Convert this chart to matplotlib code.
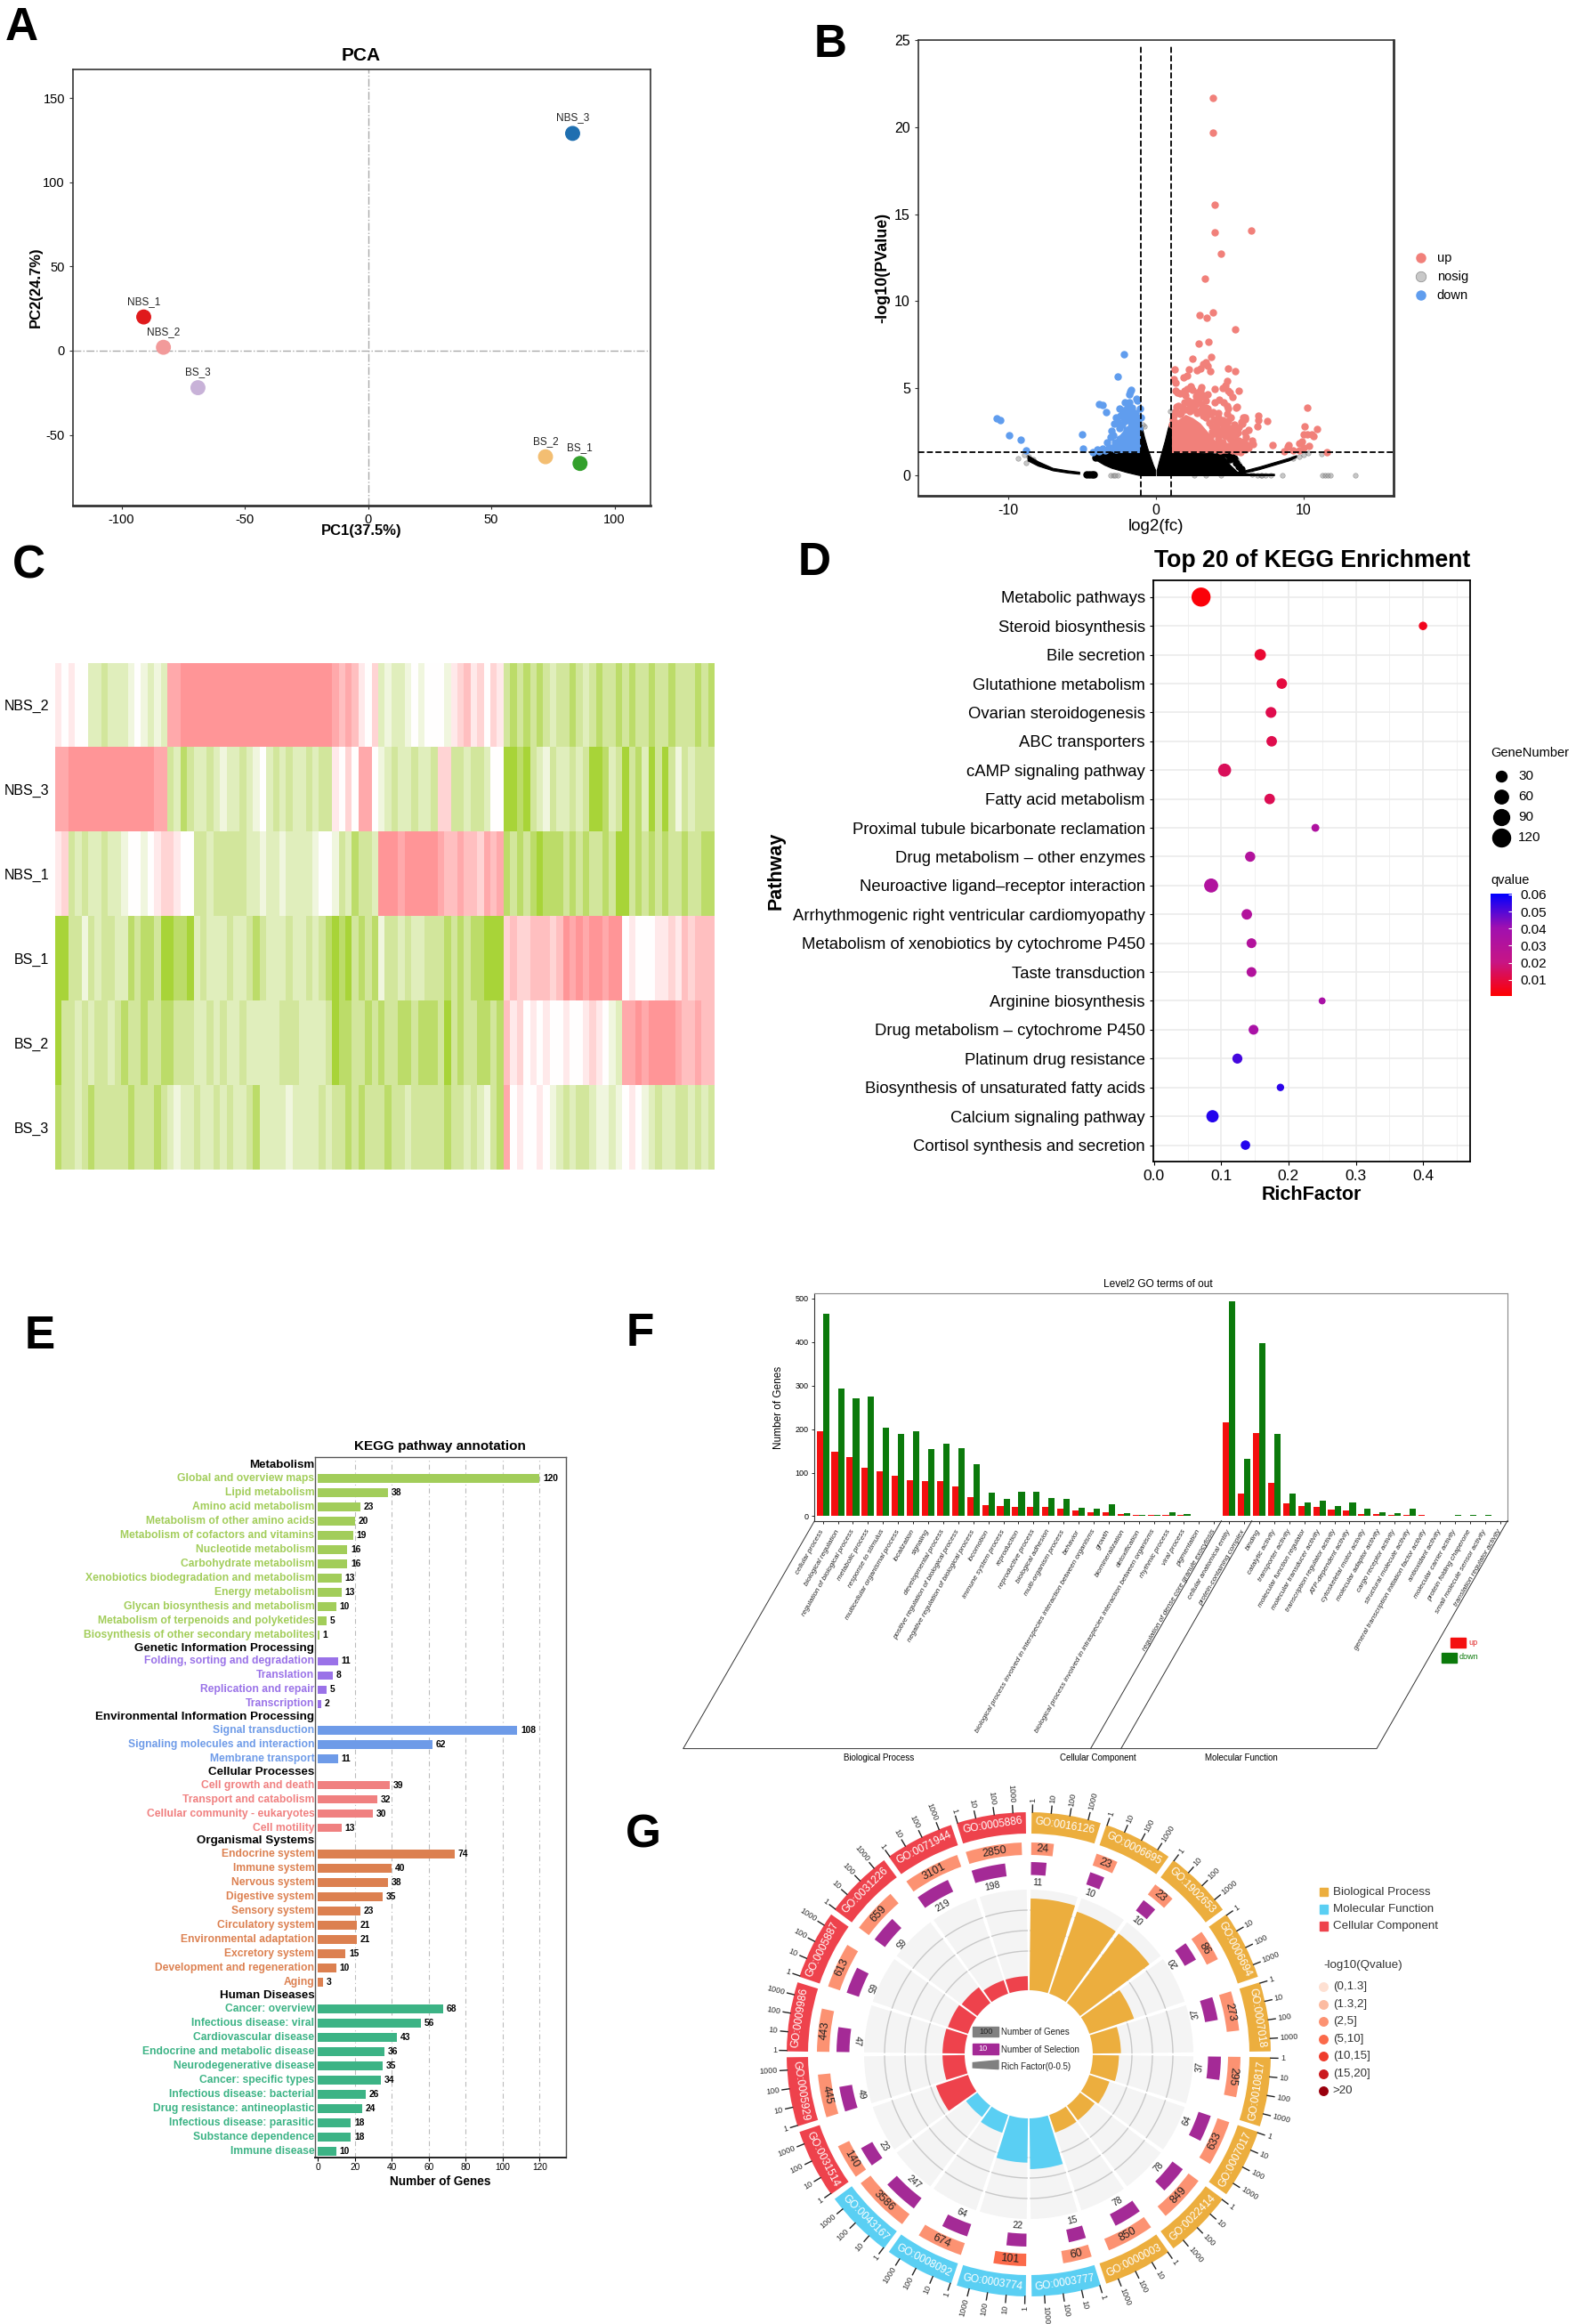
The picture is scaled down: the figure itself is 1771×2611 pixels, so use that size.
import numpy as np
import matplotlib
matplotlib.use('Agg')
import matplotlib.pyplot as plt
from matplotlib.colors import LinearSegmentedColormap, Normalize
from matplotlib.cm import ScalarMappable
from matplotlib.patches import Rectangle, Polygon

plt.rcParams['font.family'] = ['Liberation Sans', 'DejaVu Sans']
plt.rcParams['axes.unicode_minus'] = False

W, H = 1771, 2611

# ---- A: PCA
pca_names = ['NBS_3', 'BS_1', 'BS_2', 'NBS_1', 'NBS_2', 'BS_3']
pca_x = [83, 86, 72, -91, -83, -69]
pca_y = [129, -67, -63, 20, 2, -22]
pca_colors = ['#1f6fb0', '#33a02c', '#f3be72', '#e01a1c', '#f29a9a', '#c8b2d8']

# ---- B: volcano, single points
up_x = [3.84, 3.87, 3.97, 3.97, 6.44, 4.42, 3.32, 3.84, 2.95, 3.46, 5.38, 3.56, 2.88, 3.73, 2.5, 3.36, 3.18, 3.5, 3.0, 2.77,
        2.23, 1.27, 3.7, 4.9, 5.38, 1.2, 1.3, 1.88, 2.09, 4.8, 4.73, 2.33, 1.3, 1.45, 1.6, 1.9, 2.0, 2.1, 2.35, 2.5,
        2.7, 2.85, 3.0, 3.05, 2.8, 2.95, 3.2, 3.4, 3.5, 3.95, 4.5, 4.9, 5.0, 5.6, 5.2, 4.3, 4.0, 4.6, 4.8, 4.9,
        5.5, 5.45, 3.1, 3.4, 2.5, 2.2, 1.8, 1.4, 1.5, 1.3, 2.0, 2.6, 3.0, 3.5, 4.2, 4.85, 4.9, 4.7, 5.9, 5.8,
        6.05, 5.6, 5.3, 5.0, 4.4, 4.2, 3.9, 6.0, 6.1, 5.4, 5.8, 5.95, 6.15, 5.7, 5.5, 6.0, 4.7, 5.1, 4.5, 4.9,
        4.3, 4.1, 3.8, 4.6, 5.2, 5.35, 4.75, 4.45, 10.27, 10.1, 10.9, 10.27, 10.03, 10.7, 10.55, 9.86, 9.69, 9.0, 8.94, 7.9,
        10.4, 10.03, 9.69, 9.28, 8.66, 11.58, 6.95, 6.95, 7.53, 6.88, 6.03, 5.86,
        1.2, 1.7, 2.3, 2.8, 3.2, 3.6, 3.8, 4.0, 3.7, 4.2, 4.4, 4.6, 4.8, 5.0, 5.2, 5.4, 5.6, 4.3, 4.6, 5.2,
        3.4, 3.7, 4.1, 4.5, 2.4, 1.6, 1.15, 1.1, 1.9, 2.3, 2.7, 3.3, 4.05, 4.35, 5.75, 6.3, 6.5, 6.3, 6.6, 5.25,
        5.55, 4.75, 4.55, 5.05, 4.25, 3.85]
up_y = [21.66, 19.68, 15.56, 13.98, 14.06, 12.75, 11.3, 9.33, 9.19, 9.07, 8.36, 7.68, 7.56, 6.81, 6.7, 6.5, 6.4, 6.3, 6.14, 6.04,
        6.08, 6.1, 5.96, 6.14, 5.96, 5.5, 5.3, 5.6, 5.7, 5.43, 5.15, 5.09, 4.85, 4.75, 4.7, 4.85, 4.6, 4.95, 5.05, 4.9,
        4.55, 4.75, 4.9, 5.05, 4.35, 4.45, 4.6, 4.3, 4.65, 4.95, 5.0, 4.85, 4.75, 4.85, 4.5, 4.35, 4.2, 4.2, 4.0, 3.85,
        3.95, 3.9, 4.1, 3.9, 4.2, 4.3, 3.9, 3.95, 4.0, 3.7, 3.8, 3.8, 3.75, 3.85, 3.3, 3.5, 3.1, 3.0, 3.3, 3.05,
        3.2, 2.75, 2.9, 2.7, 3.0, 2.6, 3.2, 2.45, 2.2, 2.35, 1.85, 1.95, 1.75, 1.6, 1.4, 1.5, 2.25, 2.3, 1.9, 1.7,
        2.3, 2.8, 2.5, 2.7, 1.6, 2.0, 1.5, 1.7, 3.88, 2.83, 2.67, 2.36, 2.36, 2.26, 2.36, 1.96, 1.86, 1.76, 1.62, 1.76,
        1.66, 1.56, 1.45, 1.45, 1.39, 1.33, 3.43, 3.17, 3.13, 2.79, 3.33, 2.97,
        3.4, 3.6, 3.7, 3.55, 3.4, 3.0, 2.8, 2.4, 2.2, 2.1, 2.4, 2.6, 2.4, 2.1, 1.9, 1.7, 2.0, 1.6, 1.5, 1.45,
        3.3, 3.5, 3.0, 3.15, 3.9, 3.5, 3.2, 2.9, 4.2, 4.05, 4.1, 3.6, 1.8, 1.45, 1.35, 1.6, 2.0, 2.6, 1.8, 2.55,
        2.45, 2.85, 2.95, 3.3, 3.6, 3.65]
down_x = [-10.79, -10.58, -9.97, -9.14, -8.8, -5.0, -4.97, -2.16, -2.57, -3.84, -3.6, -3.39, -1.68, -1.75, -1.82, -1.34, -2.1, -1.8, -1.25,
          -1.1, -2.45, -2.2, -1.9, -1.6, -2.7, -2.4, -3.0, -2.85, -3.1, -3.3, -3.6, -3.85, -2.6, -2.2, -1.5, -1.3, -1.05, -1.75,
          -3.0, -2.8, -2.7, -2.5, -2.3, -2.5, -2.9, -3.2, -3.45, -2.1, -1.9, -1.7, -2.0, -1.4, -1.6, -1.9, -2.3, -1.2, -1.15, -4.3, -3.95]
down_y = [3.27, 3.17, 2.3, 2.04, 1.41, 2.36, 1.54, 6.95, 5.66, 4.08, 4.06, 3.64, 4.93, 4.79, 4.65, 4.38, 4.2, 4.2, 4.3,
          3.85, 3.85, 3.75, 3.65, 3.7, 3.3, 3.4, 2.55, 2.95, 2.2, 1.9, 1.55, 1.4, 3.05, 3.25, 3.5, 3.3, 3.3, 3.2,
          1.6, 1.9, 1.5, 2.7, 2.9, 2.1, 2.3, 1.6, 1.45, 3.1, 3.4, 3.0, 2.6, 3.6, 3.9, 3.9, 3.5, 3.0, 2.7, 1.35, 1.5]
nosig_x = [-9.35, -8.9, -8.6, -8.8, -8.3, -4.4, -4.2, -4.7, -4.35, -3.1, -2.9, -2.6, -2.8, -3.6, -3.9, -3.0, -0.8, -2.4, 5.1, 4.9, 5.5, 4.2, 4.7, 5.6,
           6.5, 7.4, 7.75, 8.55, 11.3, 11.45, 11.65, 11.8, 13.5, 2.6, 3.4, 4.4, 6.9, 7.1, 7.2, 9.3, 9.7, 10.0, 10.3, 11.2, 0.95, -0.9]
nosig_y = [0.95, 1.15, 1.05, 0.7, 0.9, 0.05, 0.05, 0.05, 0.03, 0.0, 0.0, 0.0, 0.0, 1.0, 1.05, 0.8, 2.8, 0.9, 1.0, 0.9, 0.85, 1.05, 0.8, 0.65,
           0.05, 0.0, 0.0, 0.0, 0.0, 0.0, 0.0, 0.0, 0.0, 0.0, 0.0, 0.0, 0.0, 0.0, 0.0, 0.98, 1.08, 1.15, 1.25, 1.2, 3.7, 2.9]
# dense parts of the volcano, as envelopes
black_left_x = [-4.0, -3.5, -3.0, -2.5, -2.0, -1.5, -1.2, -1.0, -0.8, -0.6, -0.4, -0.2, -0.05]
black_left_hi = [1.2, 1.3, 1.3, 1.3, 1.3, 1.3, 1.3, 2.9, 2.2, 1.6, 1.1, 0.6, 0.3]
black_left_lo = [0.85, 0.6, 0.42, 0.3, 0.18, 0.08, 0.02, 0.0, 0.0, 0.0, 0.0, 0.0, 0.0]
black_right_x = [0.05, 0.2, 0.4, 0.6, 0.8, 1.0, 1.2, 1.5, 2.0, 3.0, 4.0, 4.6, 5.0, 5.5, 6.0, 7.0, 8.0]
black_right_hi = [0.3, 0.8, 1.4, 2.0, 2.7, 3.2, 1.3, 1.3, 1.3, 1.3, 1.25, 1.1, 0.6, 0.2, 0.1, 0.08, 0.08]
arm_left_x = [-8.7, -8.0, -7.0, -6.0, -5.2]
arm_left_hi = [1.15, 0.8, 0.42, 0.28, 0.2]
arm_left_lo = [0.85, 0.55, 0.28, 0.15, 0.08]
arm_right_x = [5.0, 6.0, 7.0, 8.0, 9.0, 9.5]
arm_right_hi = [0.12, 0.28, 0.5, 0.75, 1.0, 1.15]
arm_right_lo = [0.05, 0.15, 0.35, 0.6, 0.85, 1.05]
red_mass_x = [1.05, 1.5, 2.0, 2.5, 3.0, 3.5, 4.0, 4.5, 5.0]
red_mass_hi = [3.3, 3.2, 3.5, 3.3, 3.0, 2.5, 2.0, 1.9, 1.7]
blue_mass_x = [-2.9, -2.5, -2.0, -1.6, -1.3, -1.05]
blue_mass_hi = [1.7, 2.3, 2.8, 3.2, 3.3, 2.6]
black_dots_x = [-4.7, -4.5, -4.35, -4.2, -3.9, -3.7, -3.4, -3.2, -4.1, -3.0, -2.7, -2.4, 4.3, 4.6, 4.9, 5.1, 5.3, 5.0, 5.4, 5.6, 5.8, 3.6, 2.8, 2.2]
black_dots_y = [0.05, 0.05, 0.05, 0.06, 1.1, 1.25, 0.95, 1.2, 1.0, 1.25, 1.28, 1.27, 1.3, 1.25, 1.15, 1.05, 0.95, 0.9, 0.7, 0.5, 0.35, 1.28, 1.27, 1.28]

# ---- C: heatmap, one row per sample
heat_rows = ['NBS_2', 'NBS_3', 'NBS_1', 'BS_1', 'BS_2', 'BS_3']
heat_nbs2 = [1, 0, 1, 0, 0] + [-2, -2, -3, -2, -2, -2, -1, 0, -1, -2, -1, -2] + [4, 4] + [5] * 23 + [4, 3, 4, 3] + [1, 0, 2] \
    + [-2, -1, -2, -2, -1, 0, -1, 0, 0, 0] + [-1, 1, 2, 3, 1, 2, 0, 2, 1] \
    + [-3, -4, -3, -4, -3, -4, -3, -2, -3, -3, -4, -3, -2, -3, -4, -3, -3, -4, -3, -4, -3, -3, -4, -3, -3, -4, -3, -3, -3, -4, -3, -4]
heat_nbs3 = [4, 4, 5, 5, 5, 5, 5, 5, 5, 5, 5, 5, 5, 5, 5, 4, 4] + [-3, -2, -4, -3] + [-2, -2, -3, -2, -1, -2, -2, -3, -2] + [-1, 0] \
    + [-2, -3, -2, -3, -2, -2, -3, -2, -3, -3] + [1, 0, 2, 0] + [4, 4, 0] + [-1, -2, -3, -2, -2, -3, -2, -2, -3] + [2, 2] \
    + [-3, -3, -2, -3, -3, -2] + [0, 0] \
    + [-5, -5, -4, -5, -3, -2, -1, -3, -2, -2, -3, -2, -3, -5, -5, -4, -2, -3, -5, -3, -4, -2, -5, -3, -5, -3, -1, -3, -2, -3, -3, -3]
heat_nbs1 = [1, 2] + [-3, -2, -3, -2, -2, -3, -2, -2, -1] + [0, 0, -1, 0] + [1, 2] + [2, 1, 0, 0] + [-3, -3, -2, -3, -3, -3, -3, -3] \
    + [-2, -2, -1] + [-2, -2, -1, -2, -2, -2, -2] + [-1, 0, 0, -1] + [-3, -2, -4, -3, -3, -2] + [5, 5, 5, 4, 5, 5, 5, 5, 5, 4] \
    + [3, 3, 4, 3, 3, 2, 4, 3, 4] \
    + [-4, -3, -4, -3, -4, -5, -4, -4, -4, -3, -4, -3, -4, -3, -3, -4, -3, -5, -5, -3, -4, -3, -4, -3, -4, -3, -3, -4, -3, -3, -4, -4]
heat_bs1 = [-5, -5] + [-3, -3, -1, -3, -2, -3, -3, -2, -2] + [-4, -3, -4, -4, -3] + [-5] + [-5, -4, -4, -5] \
    + [-2, -3, -2, -2, -2, -3, -2, -2] + [-3, -4, -3, -2, -2, -2, -3, -2, -2, -3, -2, -3, -4] + [-5, -4, -5, -3, -4, -3, -4] \
    + [-1, -3, -3, -2, -3, -2, -2, -3, -3, -3, -4, -3, -4, -3, -4, -4, -5, -5, -5] + [2, 3, 2, 2, 3, 3, 3, 2, 3] \
    + [5, 4, 5, 4, 5, 5, 4, 5, 5] + [0, 1, 0, 0, 0, 1, 1, 2, 1] + [3, 2, 3, 3, 3]
heat_bs2 = [-5, -3, -3, -2, -3, -2, -3, -3, -2, -3] + [-4, -3, -3, -4, -3, -3, -4] \
    + [-4, -3, -3, -3, -2, -2, -3, -2, -3, -2, -2, -3, -2, -2, -2, -2, -2, -3, -3, -3] + [-2, -2, -2, -2, -3] \
    + [-5, -4, -4, -3, -3, -4, -3] + [-4, -3, -3, -4, -4, -3, -4, -4, -4, -3] + [-5, -3, -4, -3, -3, -4, -4, -3, -4] \
    + [3, 1, 2, 0, 1, 0, 1, 0, 0] + [1, 0, 0, 1, 2, 1, 0, -1, -2] + [4, 4, 5, 4, 5, 5, 5, 5, 4] + [3, 3, 4, 3, 3]
heat_bs3 = [-4, -3, -3, -2, -3, -4, -3, -3, -3, -3, -3, -4, -3, -3, -3, -4, -3] \
    + [-2, -1, -2, -2, -3, -2, -2, -3, -2, -3, -2, -2, -3, -4, -2, -2, -2, -2, -1, -2, -2, -2, -2, -3, -2] \
    + [-3, -3, -4, -3, -4, -3, -3] + [-3, -4, -3, -3, -2, -3, -3, -3, -3, -3] + [-4, -3, -3, -2, -3, -2, -1, -3, -4] \
    + [4, 0, 1, 0, 0, 1, 0] + [-1, -2, -3, -2, -3, -3, -2, -1, -1, -2, -1] + [0, 1, 0] + [-1, -2, -3, -2, -2, -3, -3, -2, -3, -2, -3]

# ---- D: KEGG bubble
kegg_terms = ['Metabolic pathways', 'Steroid biosynthesis', 'Bile secretion', 'Glutathione metabolism', 'Ovarian steroidogenesis',
              'ABC transporters', 'cAMP signaling pathway', 'Fatty acid metabolism', 'Proximal tubule bicarbonate reclamation',
              'Drug metabolism – other enzymes', 'Neuroactive ligand–receptor interaction', 'Arrhythmogenic right ventricular cardiomyopathy',
              'Metabolism of xenobiotics by cytochrome P450', 'Taste transduction', 'Arginine biosynthesis', 'Drug metabolism – cytochrome P450',
              'Platinum drug resistance', 'Biosynthesis of unsaturated fatty acids', 'Calcium signaling pathway', 'Cortisol synthesis and secretion']
kegg_rich = [0.07, 0.4, 0.158, 0.19, 0.174, 0.175, 0.105, 0.172, 0.24, 0.143, 0.085, 0.138, 0.145, 0.145, 0.25, 0.148, 0.124, 0.188, 0.087, 0.136]
kegg_genes = [120, 10, 26, 20, 22, 20, 40, 20, 8, 18, 50, 20, 16, 16, 6, 16, 17, 7, 33, 14]
kegg_q = [0.002, 0.005, 0.008, 0.01, 0.012, 0.012, 0.014, 0.013, 0.033, 0.031, 0.032, 0.031, 0.031, 0.031, 0.036, 0.036, 0.052, 0.055, 0.056, 0.056]
legend_genes = [30, 60, 90, 120]
q_ticks = [0.01, 0.02, 0.03, 0.04, 0.05, 0.06]

# ---- E: KEGG annotation
ann_groups = ['Metabolism', 'Genetic Information Processing', 'Environmental Information Processing', 'Cellular Processes', 'Organismal Systems', 'Human Diseases']
ann_colors = ['#a2cd5a', '#9a72e8', '#6e9be8', '#f08080', '#dc8050', '#3cb385']
ann_terms = [
    ['Global and overview maps', 'Lipid metabolism', 'Amino acid metabolism', 'Metabolism of other amino acids', 'Metabolism of cofactors and vitamins',
     'Nucleotide metabolism', 'Carbohydrate metabolism', 'Xenobiotics biodegradation and metabolism', 'Energy metabolism',
     'Glycan biosynthesis and metabolism', 'Metabolism of terpenoids and polyketides', 'Biosynthesis of other secondary metabolites'],
    ['Folding, sorting and degradation', 'Translation', 'Replication and repair', 'Transcription'],
    ['Signal transduction', 'Signaling molecules and interaction', 'Membrane transport'],
    ['Cell growth and death', 'Transport and catabolism', 'Cellular community - eukaryotes', 'Cell motility'],
    ['Endocrine system', 'Immune system', 'Nervous system', 'Digestive system', 'Sensory system', 'Circulatory system', 'Environmental adaptation',
     'Excretory system', 'Development and regeneration', 'Aging'],
    ['Cancer: overview', 'Infectious disease: viral', 'Cardiovascular disease', 'Endocrine and metabolic disease', 'Neurodegenerative disease',
     'Cancer: specific types', 'Infectious disease: bacterial', 'Drug resistance: antineoplastic', 'Infectious disease: parasitic', 'Substance dependence', 'Immune disease'],
]
ann_values = [
    [120, 38, 23, 20, 19, 16, 16, 13, 13, 10, 5, 1],
    [11, 8, 5, 2],
    [108, 62, 11],
    [39, 32, 30, 13],
    [74, 40, 38, 35, 23, 21, 21, 15, 10, 3],
    [68, 56, 43, 36, 35, 34, 26, 24, 18, 18, 10],
]

# ---- F: GO level 2
go2_terms = ['cellular process', 'biological regulation', 'regulation of biological process', 'metabolic process', 'response to stimulus',
             'multicellular organismal process', 'localization', 'signaling', 'developmental process', 'positive regulation of biological process',
             'negative regulation of biological process', 'locomotion', 'immune system process', 'reproduction', 'reproductive process',
             'biological adhesion', 'multi-organism process', 'behavior', 'biological process involved in interspecies interaction between organisms',
             'growth', 'biomineralization', 'detoxification', 'biological process involved in intraspecies interaction between organisms',
             'rhythmic process', 'viral process', 'pigmentation', 'regulation of dense core granule exocytosis',
             'cellular anatomical entity', 'protein-containing complex',
             'binding', 'catalytic activity', 'transporter activity', 'molecular function regulator', 'molecular transducer activity',
             'transcription regulator activity', 'ATP-dependent activity', 'cytoskeletal motor activity', 'molecular adaptor activity',
             'cargo receptor activity', 'structural molecule activity', 'general transcription initiation factor activity', 'antioxidant activity',
             'molecular carrier activity', 'protein folding chaperone', 'small molecule sensor activity', 'translation regulator activity']
go2_up = [196, 148, 136, 112, 104, 92, 83, 81, 80, 69, 44, 25, 23, 22, 22, 21, 17, 13, 10, 10, 5, 3, 2, 3, 2, 0, 0,
          215, 51, 191, 76, 29, 24, 22, 15, 14, 4, 4, 3, 3, 2, 0, 0, 0, 0, 0]
go2_down = [464, 293, 270, 274, 204, 189, 195, 154, 166, 156, 120, 55, 39, 57, 57, 42, 40, 20, 17, 27, 8, 2, 3, 9, 5, 1, 1,
            494, 131, 397, 188, 51, 31, 36, 24, 31, 18, 9, 6, 17, 0, 1, 3, 2, 3, 1]
go2_yticks = [0, 100, 200, 300, 400, 500]

# ---- G: GO circle, clockwise from the top
circ_ids = ['GO:0016126', 'GO:0006695', 'GO:1902653', 'GO:0006694', 'GO:0007018', 'GO:0010817', 'GO:0007017', 'GO:0022414', 'GO:0000003', 'GO:0003777',
            'GO:0003774', 'GO:0008092', 'GO:0043167', 'GO:0031514', 'GO:0005929', 'GO:0009986', 'GO:0005887', 'GO:0031226', 'GO:0071944', 'GO:0005886']
circ_class = ['BP'] * 9 + ['MF'] * 4 + ['CC'] * 7
circ_genes = [24, 23, 23, 86, 273, 295, 633, 849, 850, 60, 101, 674, 3586, 140, 445, 443, 613, 659, 3101, 2850]
circ_sel = [11, 10, 10, 20, 37, 37, 64, 78, 78, 15, 22, 64, 247, 23, 49, 47, 65, 65, 219, 198]
circ_rich = [0.456, 0.43, 0.43, 0.234, 0.14, 0.13, 0.105, 0.09, 0.092, 0.252, 0.22, 0.093, 0.07, 0.168, 0.11, 0.11, 0.105, 0.097, 0.07, 0.07]
class_colors = {'BP': '#ecae3e', 'MF': '#5acff3', 'CC': '#ee424c'}
q_labels = ['(0,1.3]', '(1.3,2]', '(2,5]', '(5,10]', '(10,15]', '(15,20]', '>20']
q_colors = ['#fee0d2', '#fcbba1', '#fc9272', '#fb6a4a', '#ef3b2c', '#cb181d', '#99000d']
purple = '#a42a96'


def add_box(left, top, right, bottom, **kw):
    return fig.add_axes([left / W, 1 - bottom / H, (right - left) / W, (bottom - top) / H], **kw)


def dsize(px):
    # marker diameter in pixels -> scatter s
    return (px * 0.72) ** 2


fig = plt.figure(figsize=(W / 100, H / 100), dpi=100)

# overlay in pixel coordinates for free text and legends
over = fig.add_axes([0, 0, 1, 1], zorder=10)
over.set_xlim(0, W)
over.set_ylim(H, 0)
over.axis('off')
over.patch.set_alpha(0)

for lab, x, y in [('A', 6, 45), ('B', 915, 64), ('C', 14, 650), ('D', 897, 646), ('E', 28, 1515), ('F', 704, 1512), ('G', 703, 2076)]:
    over.text(x, y, lab, fontsize=37, fontweight='bold', ha='left', va='baseline')

# A
ax = add_box(82, 78, 731, 568)
ax.axhline(0, color='#aaaaaa', ls='-.', lw=1)
ax.axvline(0, color='#aaaaaa', ls='-.', lw=1)
ax.scatter(pca_x, pca_y, s=dsize(15.5), c=pca_colors, zorder=3)
for n, x, y in zip(pca_names, pca_x, pca_y):
    ax.annotate(n, (x, y), xytext=(0, 12.5), textcoords='offset points', ha='center', va='center', fontsize=8.5, color='#222222')
ax.set_xlim(-119.7, 114.6)
ax.set_ylim(-92, 167)
ax.set_xticks([-100, -50, 0, 50, 100])
ax.set_yticks([-50, 0, 50, 100, 150])
ax.tick_params(labelsize=10.5, length=3, color='#333333')
for s in ax.spines.values():
    s.set_color('#333333')
    s.set_linewidth(1.2)
ax.spines['bottom'].set_linewidth(2)
over.text(406, 62, 'PCA', fontsize=15, fontweight='bold', ha='center', va='center')
over.text(406, 597, 'PC1(37.5%)', fontsize=12, fontweight='bold', ha='center', va='center')
over.text(40, 323, 'PC2(24.7%)', fontsize=12, fontweight='bold', ha='center', va='center', rotation=90)

# B
ax = add_box(1032, 45, 1566, 557)
ax.scatter(nosig_x, nosig_y, s=dsize(5.5), c='#999999', alpha=0.55, lw=0.4, edgecolors='#555555', zorder=2)
ax.fill_between(black_left_x, black_left_lo, black_left_hi, color='black', lw=0.8, zorder=3)
ax.fill_between(black_right_x, 0, black_right_hi, color='black', lw=0.8, zorder=3)
ax.fill_between(arm_left_x, arm_left_lo, arm_left_hi, color='black', lw=0.8, zorder=3)
ax.fill_between(arm_right_x, arm_right_lo, arm_right_hi, color='black', lw=0.8, zorder=3)
ax.scatter(black_dots_x, black_dots_y, s=dsize(7), c='black', zorder=3)
ax.fill_between(red_mass_x, 1.3, red_mass_hi, color='#f1807a', lw=0, zorder=3)
ax.fill_between(blue_mass_x, 1.3, blue_mass_hi, color='#609dee', lw=0, zorder=3)
ax.scatter(up_x, up_y, s=dsize(7), c='#f1807a', zorder=4)
ax.scatter(down_x, down_y, s=dsize(7), c='#609dee', zorder=4)
ax.axhline(1.3, color='black', ls='--', lw=1.3, zorder=5)
ax.axvline(-1, ymin=0.0, ymax=0.99, color='black', ls='--', lw=1.3, zorder=5)
ax.axvline(1, ymin=0.0, ymax=0.99, color='black', ls='--', lw=1.3, zorder=5)
ax.set_xlim(-16.1, 16.1)
ax.set_ylim(-1.18, 25)
ax.set_xticks([-10, 0, 10])
ax.set_yticks([0, 5, 10, 15, 20, 25])
ax.tick_params(labelsize=11.5, length=3, color='#333333')
for s in ax.spines.values():
    s.set_color('#333333')
    s.set_linewidth(1.2)
ax.spines['bottom'].set_linewidth(2)
ax.spines['right'].set_linewidth(2)
over.text(1299, 591, 'log2(fc)', fontsize=13.5, ha='center', va='center')
over.text(992, 301, '-log10(PValue)', fontsize=13, fontweight='bold', ha='center', va='center', rotation=90)
over.scatter([1597] * 3, [290, 311, 332], s=dsize(11.5), c=['#f1807a', '#c8c8c8', '#609dee'], edgecolors=['none', '#888888', 'none'], lw=0.5)
for t, y in zip(['up', 'nosig', 'down'], [290, 311, 332]):
    over.text(1614.6, y, t, fontsize=10.5, ha='left', va='center')

# C
heat_cmap = LinearSegmentedColormap.from_list('heat', [(0, '#a8d438'), (0.2, '#d2e69c'), (0.5, '#ffffff'), (1, '#ff9597')])
ax = add_box(62, 744.5, 803, 1314)
ax.imshow(np.array([heat_nbs2, heat_nbs3, heat_nbs1, heat_bs1, heat_bs2, heat_bs3]), aspect='auto', cmap=heat_cmap, vmin=-5, vmax=5, interpolation='nearest')
ax.set_xticks([])
ax.set_yticks(range(6))
ax.set_yticklabels(heat_rows, fontsize=11.5)
ax.tick_params(length=0, pad=5)
for s in ax.spines.values():
    s.set_visible(False)

# D
q_cmap = LinearSegmentedColormap.from_list('q', ['#ff0000', '#c71585', '#a010b0', '#0000ff'])
q_norm = Normalize(0.0005, 0.0605)
ax = add_box(1296, 652, 1652, 1305)
ax.set_axisbelow(True)
ax.grid(True, which='major', color='#ebebeb', lw=1.2)
ax.set_xticks([0.05, 0.15, 0.25, 0.35, 0.45], minor=True)
ax.grid(True, which='minor', axis='x', color='#f0f0f0', lw=0.7)
dia = [5 + 15 * np.sqrt(max(g - 5, 0) / 115) for g in kegg_genes]
ax.scatter(kegg_rich, range(20), s=[dsize(d) for d in dia], c=kegg_q, cmap=q_cmap, norm=q_norm, zorder=3)
ax.set_xlim(-0.001, 0.47)
ax.set_ylim(19.57, -0.58)
ax.set_xticks([0.0, 0.1, 0.2, 0.3, 0.4])
ax.set_yticks(range(20))
ax.set_yticklabels(kegg_terms)
ax.tick_params(axis='y', labelsize=13.3, length=3)
ax.tick_params(axis='x', labelsize=12.5, length=3)
ax.tick_params(which='minor', length=0)
for s in ax.spines.values():
    s.set_linewidth(1.3)
over.text(1475, 630, 'Top 20 of KEGG Enrichment', fontsize=19.2, fontweight='bold', ha='center', va='center')
over.text(1474, 1342, 'RichFactor', fontsize=15.5, fontweight='bold', ha='center', va='center')
over.text(872, 978, 'Pathway', fontsize=15.5, fontweight='bold', ha='center', va='center', rotation=90)
over.text(1675, 846, 'GeneNumber', fontsize=10.5, ha='left', va='center')
for g, y in zip(legend_genes, [872, 895, 918, 941]):
    d = 5 + 15 * np.sqrt((g - 5) / 115)
    over.scatter([1687], [y], s=dsize(d), c='black')
    over.text(1706, y, str(g), fontsize=11, ha='left', va='center')
over.text(1675, 989, 'qvalue', fontsize=10.5, ha='left', va='center')
cax = add_box(1675, 1004, 1699, 1119)
cb = fig.colorbar(ScalarMappable(norm=q_norm, cmap=q_cmap), cax=cax, ticks=q_ticks)
cb.ax.set_yticklabels(['0.01', '0.02', '0.03', '0.04', '0.05', '0.06'], fontsize=11)
cb.ax.tick_params(length=3, color='white', direction='in', pad=7)
cb.outline.set_visible(False)

# E
ax = add_box(353.5, 1636.5, 635.5, 2423.5)
for v in [20, 40, 60, 80, 100, 120]:
    ax.axvline(v, color='#bbbbbb', ls=(0, (5, 3, 1, 3)), lw=0.8, zorder=1)
pos = 0
for g, name in enumerate(ann_groups):
    if g > 0:
        pos += 0.85
    ax.text(-1.8, pos - 0.92, name, fontsize=9.6, fontweight='bold', ha='right', va='center', clip_on=False)
    for term, v in zip(ann_terms[g], ann_values[g]):
        ax.barh(pos, v, height=0.6, color=ann_colors[g], zorder=2)
        ax.text(-1.8, pos, term, fontsize=8.7, fontweight='bold', color=ann_colors[g], ha='right', va='center', clip_on=False)
        ax.text(v + 1.8, pos, str(v), fontsize=7.4, fontweight='bold', ha='left', va='center', zorder=3)
        pos += 1
ax.set_xlim(-1.7, 134)
ax.set_ylim(47.67, -1.52)
ax.set_yticks([])
ax.set_xticks([0, 20, 40, 60, 80, 100, 120])
ax.tick_params(axis='x', labelsize=7.3, length=3, pad=2)
for s in ax.spines.values():
    s.set_color('#555555')
    s.set_linewidth(1)
ax.spines['bottom'].set_color('#222222')
ax.spines['bottom'].set_linewidth(1.4)
over.text(494.5, 1625, 'KEGG pathway annotation', fontsize=11, fontweight='bold', ha='center', va='center')
over.text(494.5, 2451, 'Number of Genes', fontsize=9.8, fontweight='bold', ha='center', va='center')

# F
ax = add_box(915, 1453, 1694, 1708.6)
xs = np.arange(len(go2_terms))
ax.bar(xs - 0.21, go2_up, width=0.42, color='#f40f0f')
ax.bar(xs + 0.21, go2_down, width=0.42, color='#0b7a0b')
ax.set_xlim(-0.57, 45.5)
ax.set_ylim(-10.6, 512)
ax.set_yticks(go2_yticks)
ax.set_xticks(xs)
ax.set_xticklabels(go2_terms, rotation=60, ha='right', va='center', rotation_mode='anchor', fontsize=5.9, fontstyle='italic', color='#222222')
ax.tick_params(axis='y', labelsize=6.5, length=2.5, pad=2, width=0.6)
ax.tick_params(axis='x', length=2.5, pad=5, width=0.6)
for s in ax.spines.values():
    s.set_color('#888888')
    s.set_linewidth(0.8)
ax.spines['left'].set_color('#333333')
ax.spines['bottom'].set_color('#333333')
over.plot([915.4, 767.7, 1547, 1694], [1708.6, 1964.6, 1964.6, 1708.6], color='#333333', lw=0.7)
over.plot([1372.5, 1225.5], [1708.6, 1964.6], color='#333333', lw=0.7)
over.plot([1406.7, 1259.7], [1708.6, 1964.6], color='#333333', lw=0.7)
over.text(988, 1974.6, 'Biological Process', fontsize=7, ha='center', va='center')
over.text(1234, 1974.6, 'Cellular Component', fontsize=7, ha='center', va='center')
over.text(1394.4, 1974.6, 'Molecular Function', fontsize=7, ha='center', va='center')
over.text(1301.6, 1443, 'Level2 GO terms of out', fontsize=8.6, ha='center', va='center')
over.text(875, 1581, 'Number of Genes', fontsize=8.5, ha='center', va='center', rotation=90)
over.add_patch(Rectangle((1630, 1840), 17, 11, color='#f40f0f'))
over.add_patch(Rectangle((1620, 1856.5), 17.5, 11.5, color='#0b7a0b'))
over.text(1650, 1845.5, 'up', fontsize=6.5, color='#e02020', ha='left', va='center')
over.text(1640, 1862, 'down', fontsize=6.5, color='#0b7a0b', ha='left', va='center')

# G
R_MAX = 330
ax = fig.add_axes([(1156 - R_MAX) / W, 1 - (2308 + R_MAX) / H, 2 * R_MAX / W, 2 * R_MAX / H], projection='polar', zorder=5)
ax.set_theta_zero_location('N')
ax.set_theta_direction(-1)
ax.set_ylim(0, R_MAX)
ax.axis('off')
ax.patch.set_alpha(0)
DEC = 4.45
for i, go in enumerate(circ_ids):
    a0 = i * 18 + 0.7
    mid = i * 18 + 9
    col = class_colors[circ_class[i]]
    # outer ring and inner background
    ax.bar(np.radians(a0), 24, width=np.radians(16.6), bottom=248, align='edge', color=col, lw=0)
    ax.bar(np.radians(a0), 113, width=np.radians(16.6), bottom=72, align='edge', color='#f4f4f4', lw=0)
    for r in [116, 139, 162]:
        ax.plot(np.radians([a0 + k * 16.6 / 20 for k in range(21)]), [r] * 21, color='#c8c8c8', lw=1)
    ax.bar(np.radians(a0), circ_rich[i] * 226, width=np.radians(16.6), bottom=72, align='edge', color=col, lw=0, zorder=3)
    rot = 180 - mid if 90 < mid < 270 else -mid
    ax.text(np.radians(mid), 260, go, fontsize=8.6, color='white', ha='center', va='center', rotation=rot, rotation_mode='anchor', zorder=4)
    # log axis ticks on the rim
    for k, lab in enumerate(['1', '10', '100', '1000']):
        a = a0 + 0.2 + k * DEC
        ax.plot([np.radians(a)] * 2, [272, 280], color='#222222', lw=1)
        if a < 180:
            ax.text(np.radians(a), 283, lab, fontsize=6.6, ha='left', va='center', rotation=90 - a, rotation_mode='anchor', color='#333333')
        else:
            ax.text(np.radians(a), 283, lab, fontsize=6.6, ha='right', va='center', rotation=270 - a, rotation_mode='anchor', color='#333333')
    # gene count bar
    w = np.log10(circ_genes[i]) * DEC
    ax.bar(np.radians(a0), 14, width=np.radians(w), bottom=224, align='edge', color=q_colors[3] if circ_genes[i] == 101 else q_colors[2], lw=0)
    m = a0 + w / 2
    rot = 180 - m if 100 < m < 270 else -m
    ax.text(np.radians(m), 231, str(circ_genes[i]), fontsize=9, color='#222222', ha='center', va='center', rotation=rot, rotation_mode='anchor')
    # selected gene bar
    w = np.log10(circ_sel[i]) * DEC
    ax.bar(np.radians(a0), 14.5, width=np.radians(w), bottom=201.5, align='edge', color=purple, lw=0)
    m = a0 + w / 2
    rot = 180 - m if 45 < m < 315 else -m
    ax.text(np.radians(m), 193, str(circ_sel[i]), fontsize=7.5, color='#222222', ha='center', va='center', rotation=rot, rotation_mode='anchor')

over.add_patch(Rectangle((1093.3, 2277), 28.7, 11.4, color='#808080'))
over.add_patch(Rectangle((1093.3, 2296), 28.7, 11.6, color=purple))
over.add_patch(Polygon([(1093.3, 2317.5), (1122, 2314.8), (1122, 2324.6), (1093.3, 2323)], color='#808080'))
over.text(1107.6, 2282.7, '100', fontsize=6.6, color='#222222', ha='center', va='center')
over.text(1104, 2301.8, '10', fontsize=6.6, color='white', ha='center', va='center')
over.text(1125, 2282.7, 'Number of Genes', fontsize=7, color='#222222', ha='left', va='center')
over.text(1125, 2302.5, 'Number of Selection', fontsize=7, color='#222222', ha='left', va='center')
over.text(1125, 2322, 'Rich Factor(0-0.5)', fontsize=7, color='#222222', ha='left', va='center')
for key, name, y in zip(['BP', 'MF', 'CC'], ['Biological Process', 'Molecular Function', 'Cellular Component'], [2125.5, 2145, 2164]):
    over.add_patch(Rectangle((1482.7, y - 4.9), 9.5, 9.8, color=class_colors[key]))
    over.text(1497.7, y, name, fontsize=9.6, color='#333333', ha='left', va='center')
over.text(1487.4, 2207.7, '-log10(Qvalue)', fontsize=9.6, color='#333333', ha='left', va='center')
for lab, c, y in zip(q_labels, q_colors, [2232.2, 2251.8, 2271.4, 2290.6, 2310.2, 2329.5, 2349]):
    over.scatter([1487.4], [y], s=dsize(9.5), c=c)
    over.text(1497.7, y, lab, fontsize=9.6, color='#333333', ha='left', va='center')
over.set_xlim(0, W)
over.set_ylim(H, 0)

fig.savefig('out.png', dpi=100)
